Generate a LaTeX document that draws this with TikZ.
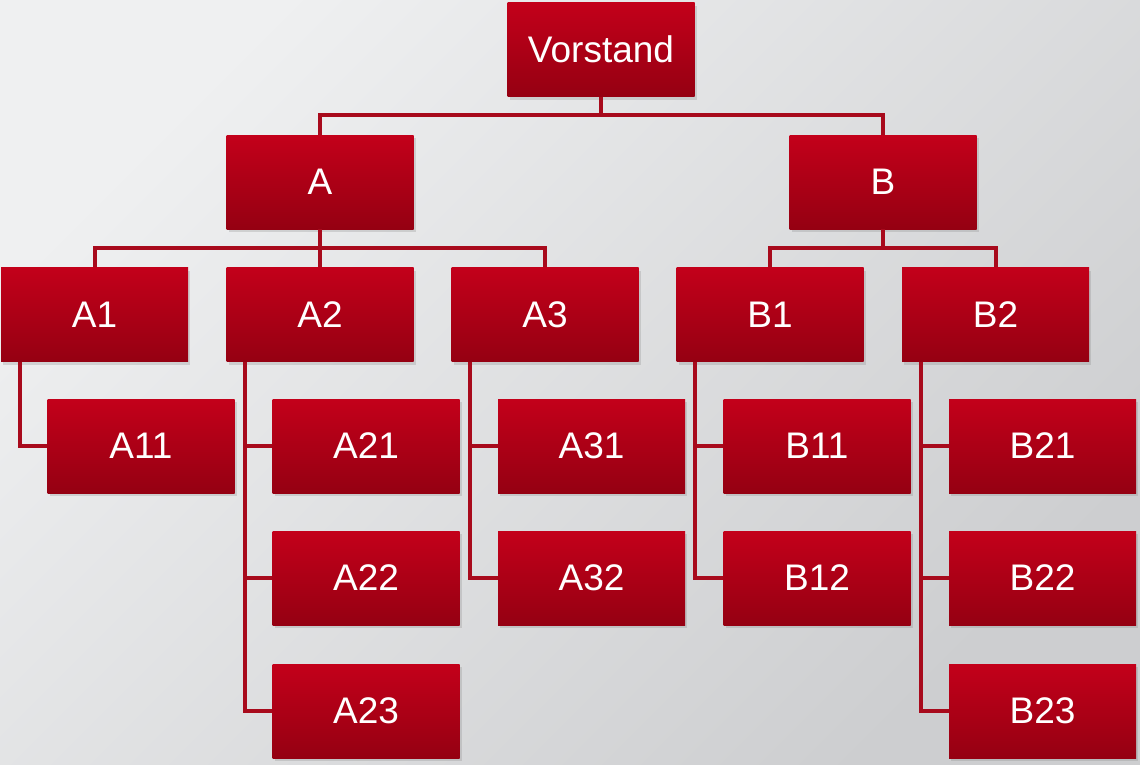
\documentclass[tikz,border=0pt]{standalone}
\usepackage{fontspec}
\setmainfont{Liberation Sans}
\usepackage{tikz}
\usetikzlibrary{positioning,shadows}
\definecolor{boxtop}{HTML}{C3001A}
\definecolor{boxbot}{HTML}{950012}
\definecolor{linkred}{HTML}{A80A1C}
\definecolor{bglight}{HTML}{EFF0F1}
\definecolor{bgdark}{HTML}{CDCED0}

\tikzset{
    unit/.style={rectangle, minimum width=187, minimum height=94, inner sep=0,
        top color=boxtop, bottom color=boxbot, text=white,
        font=\fontsize{37}{42}\selectfont,
        drop shadow={opacity=0.25, shadow xshift=2pt, shadow yshift=-3pt}},
    link/.style={linkred, line width=4pt}
}

\begin{document}
\begin{tikzpicture}[x=1pt, y=-1pt]
    % Background
    \useasboundingbox (0,0) rectangle (1140,764);
    \fill[top color=bglight, bottom color=bgdark, shading angle=45] (0,0) rectangle (1140,764);

    % Top levels
    \node[unit] (vorstand) at (601,49.5) {Vorstand};
    \node[unit] (A) at (320,182) {A};
    \node[unit] (B) at (883,182) {B};

    % Departments
    \foreach \name/\x in {A1/94.5, A2/320, A3/545, B1/770, B2/995.5} {
        \node[unit] (\name) at (\x,314.5) {\name};
    }

    % Groups
    \foreach \name/\x/\y in {A11/141/446, A21/366/446, A22/366/578, A23/366/711,
        A31/591.5/446, A32/591.5/578, B11/817/446, B12/817/578,
        B21/1042.5/446, B22/1042.5/578, B23/1042.5/711} {
        \node[unit] (\name) at (\x,\y) {\name};
    }

    % Links between levels
    \foreach \child in {A, B} {
        \draw[link] (vorstand.south) -- ++(0,18) -| (\child.north);
    }
    \foreach \child in {A1, A2, A3} {
        \draw[link] (A.south) -- ++(0,19) -| (\child.north);
    }
    \foreach \child in {B1, B2} {
        \draw[link] (B.south) -- ++(0,19) -| (\child.north);
    }
    \foreach \parent/\child in {A1/A11, A2/A21, A2/A22, A2/A23, A3/A31, A3/A32,
        B1/B11, B1/B12, B2/B21, B2/B22, B2/B23} {
        \draw[link] ([xshift=19]\parent.south west) |- (\child.west);
    }
\end{tikzpicture}
\end{document}
